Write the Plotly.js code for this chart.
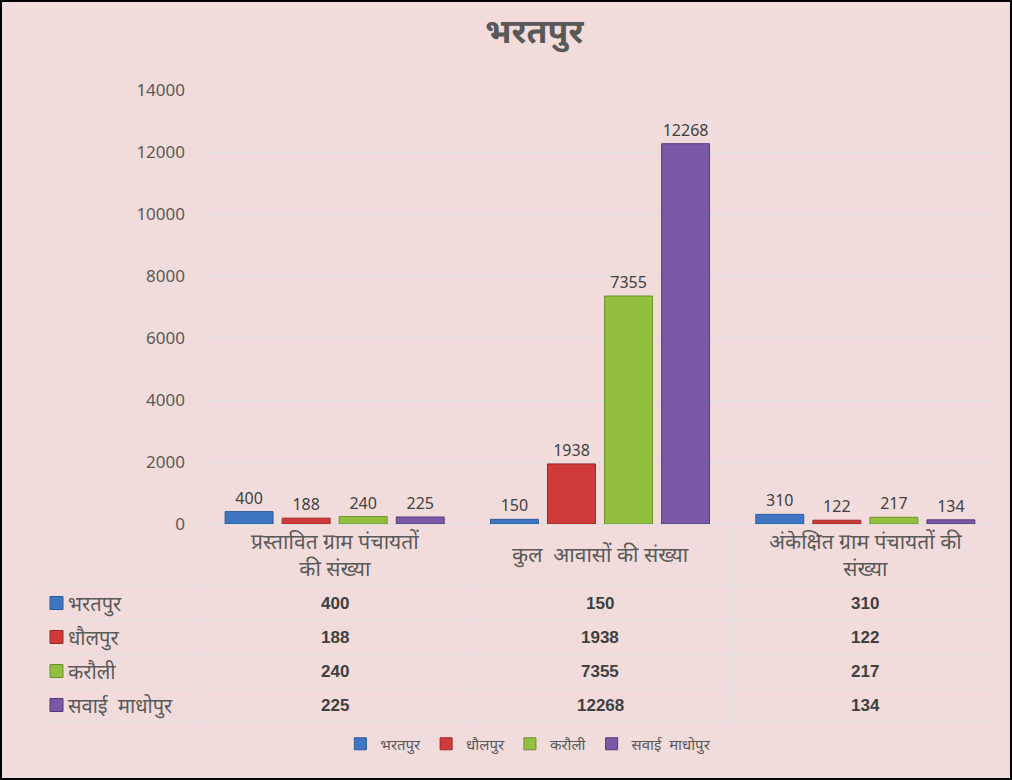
<!DOCTYPE html>
<html>
<head>
<meta charset="utf-8">
<script src="https://cdn.plot.ly/plotly-3.0.1.min.js"></script>
<style>
  html, body { margin: 0; padding: 0; background: #ffffff; }
  #chart { width: 1008px; height: 776px; border: 2px solid #000000; }
</style>
</head>
<body>
<div id="chart"></div>
<script>
// ---- data ----
const chartTitle = "भरतपुर";
const categories = ["प्रस्तावित ग्राम पंचायतों की संख्या", "कुल  आवासों की संख्या", "अंकेक्षित ग्राम पंचायतों की संख्या"];
const categoryLabels = ["प्रस्तावित ग्राम पंचायतों<br>की संख्या", "कुल  आवासों की संख्या", "अंकेक्षित ग्राम पंचायतों की<br>संख्या"];
const seriesNames = ["भरतपुर", "धौलपुर", "करौली", "सवाई  माधोपुर"];
const bharatpur = [400, 150, 310];
const dholpur = [188, 1938, 122];
const karauli = [240, 7355, 217];
const sawaiMadhopur = [225, 12268, 134];
const yTicks = [0, 2000, 4000, 6000, 8000, 10000, 12000, 14000];

const seriesValues = [bharatpur, dholpur, karauli, sawaiMadhopur];
const colors = ["#3e76c4", "#cf3b3b", "#93bf3f", "#7a58a6"];
const lineColors = ["#2a5a9c", "#9c2727", "#6e9128", "#54397a"];

const font = "'Noto Sans', 'Noto Sans Devanagari', sans-serif";

const traces = seriesNames.map((name, i) => ({
  type: "bar",
  name: name,
  x: categories,
  y: seriesValues[i],
  text: seriesValues[i].map(String),
  textposition: "outside",
  cliponaxis: false,
  textfont: { family: font, size: 16, color: "#404040" },
  marker: { color: colors[i], line: { color: lineColors[i], width: 1 } },
  hoverinfo: "x+y+name"
}));

// table geometry (paper units relative to plot area: 796 x 434 px)
const PW = 796, PH = 434;
const rowH = 34 / PH;
const headerBottom = -62 / PH;
const leftEdge = -159 / PW;
const annotations = [];
const shapes = [];

// header labels
categories.forEach((c, j) => {
  annotations.push({
    x: c, xref: "x", y: headerBottom / 2 + 1 / PH, yref: "paper",
    text: categoryLabels[j], showarrow: false,
    font: { family: font, size: 21, color: "#595959" },
    xanchor: "center", yanchor: "middle", align: "center"
  });
});

// rows
seriesNames.forEach((name, i) => {
  const yc = headerBottom - rowH * (i + 0.5);
  shapes.push({ type: "rect", xref: "paper", yref: "paper",
    x0: leftEdge + 7 / PW, x1: leftEdge + 20 / PW, y0: yc - 6.5 / PH, y1: yc + 6.5 / PH,
    fillcolor: colors[i], line: { color: lineColors[i], width: 1 } });
  annotations.push({
    x: leftEdge + 23 / PW, xref: "paper", y: yc, yref: "paper",
    text: name,
    showarrow: false, xanchor: "left", yanchor: "middle",
    font: { family: font, size: 20, color: "#595959" }
  });
  categories.forEach((c, j) => {
    annotations.push({
      x: c, xref: "x", y: yc, yref: "paper",
      text: "<b>" + seriesValues[i][j] + "</b>", showarrow: false,
      xanchor: "center", yanchor: "middle",
      font: { family: "'Liberation Sans', Arial, sans-serif", size: 17, color: "#404040" }
    });
  });
});

const gridCol = "#dcdfe2";
// horizontal table lines
for (let r = 0; r <= seriesNames.length; r++) {
  const y = headerBottom - rowH * r;
  shapes.push({ type: "line", xref: "paper", yref: "paper", x0: leftEdge, x1: 1, y0: y, y1: y,
    line: { color: gridCol, width: 1 } });
}
// vertical table lines
const bottom = headerBottom - rowH * seriesNames.length;
shapes.push({ type: "line", xref: "paper", yref: "paper", x0: leftEdge, x1: leftEdge, y0: headerBottom, y1: bottom,
  line: { color: gridCol, width: 1 } });
for (let k = 0; k <= categories.length; k++) {
  shapes.push({ type: "line", xref: "x", yref: "paper", x0: k - 0.5, x1: k - 0.5, y0: 0, y1: bottom,
    line: { color: gridCol, width: 1 } });
}

const layout = {
  width: 1008, height: 776,
  paper_bgcolor: "#f2dcdb", plot_bgcolor: "#f2dcdb",
  margin: { l: 200, r: 12, t: 88, b: 254 },
  title: {
    text: "<b>" + chartTitle + "</b>", x: 0.528, xanchor: "center", y: 0.962, yref: "container", yanchor: "middle",
    font: { family: font, size: 34, color: "#595959" }
  },
  barmode: "group", bargap: 0.14, bargroupgap: 0.16,
  xaxis: { type: "category", showticklabels: false, showgrid: false, zeroline: false,
    showline: true, linecolor: gridCol, range: [-0.5, 2.5], fixedrange: true },
  yaxis: { range: [0, 14000], tickvals: yTicks, ticktext: yTicks.map(String),
    showgrid: true, gridcolor: "#dcdfe2", gridwidth: 1, zeroline: false, showline: false,
    ticks: "", ticklabelstandoff: 16,
    tickfont: { family: font, size: 17, color: "#595959" }, fixedrange: true },
  showlegend: true,
  legend: { orientation: "h", x: 0.41, xanchor: "center", y: -0.507, yanchor: "middle",
    font: { family: font, size: 15, color: "#595959" }, itemwidth: 30, tracegroupgap: 0,
    bgcolor: "rgba(0,0,0,0)" },
  annotations: annotations,
  shapes: shapes
};

Plotly.newPlot("chart", traces, layout, { displayModeBar: false, staticPlot: true });
</script>
</body>
</html>
